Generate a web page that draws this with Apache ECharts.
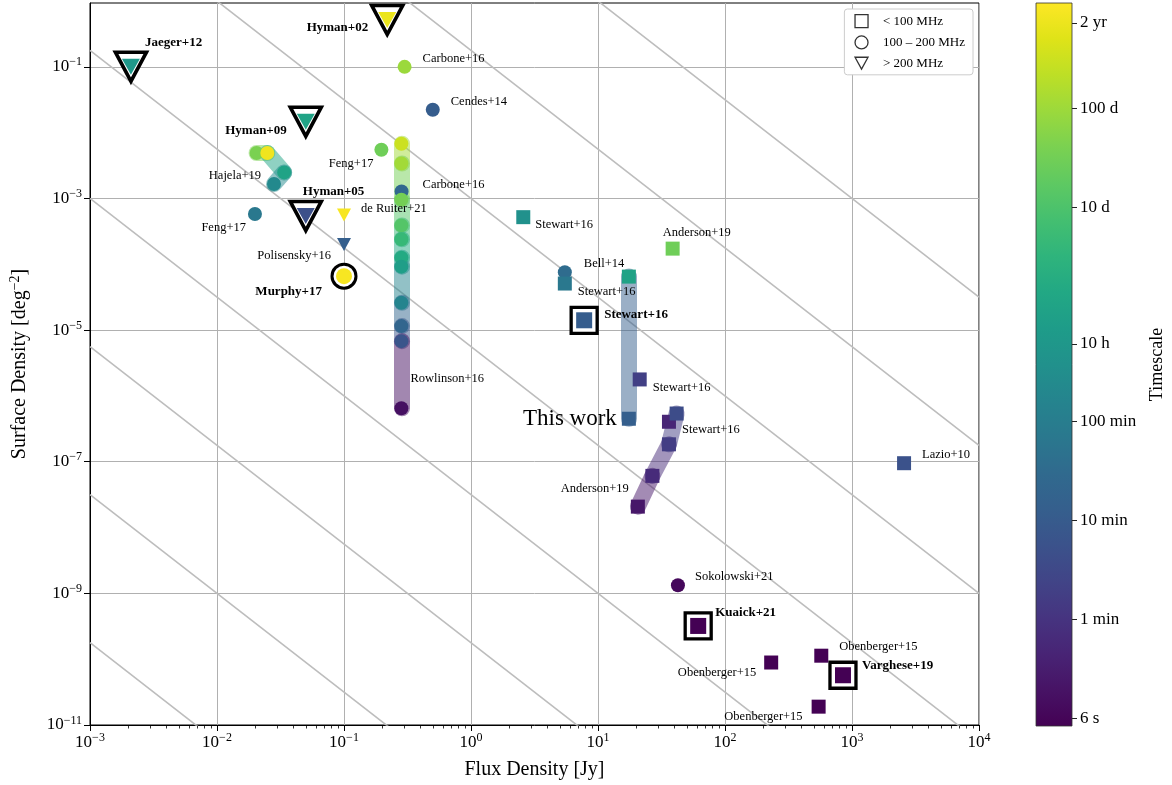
<!DOCTYPE html>
<html>
<head>
<meta charset="utf-8">
<script src="https://cdn.jsdelivr.net/npm/echarts@6/dist/echarts.min.js"></script>
<style>
html,body{margin:0;padding:0;background:#fff;}
#chart{width:1172px;height:785px;}
</style>
</head>
<body>
<div id="chart"></div>
<script>
// ------------------------------------------------------------------
// DATA  (flux density in Jy, surface density in deg^-2, timescale in s)
// ------------------------------------------------------------------

// circles: 100 – 200 MHz
const circleNames     = ['Carbone+16', 'Cendes+14', 'Feng+17', 'Carbone+16', 'Feng+17', 'Bell+14', 'Sokolowski+21'];
const circleFlux      = [0.30, 0.50, 0.197, 0.284, 0.0199, 5.48, 42.6];
const circleDensity   = [0.10, 0.0223, 5.5e-3, 1.28e-3, 5.8e-4, 7.6e-5, 1.33e-9];
const circleTimescale = [8.0e6, 660, 2.5e6, 1500, 4200, 2000, 7];

// squares: < 100 MHz
const squareNames     = ['Stewart+16', 'Stewart+16', 'Anderson+19', 'Stewart+16', 'Stewart+16', 'Lazio+10', 'Obenberger+15', 'Obenberger+15', 'Obenberger+15'];
const squareFlux      = [2.58, 5.48, 38.7, 21.3, 36.2, 2570, 231, 573, 546];
const squareDensity   = [5.2e-4, 5.1e-5, 1.73e-4, 1.78e-6, 4.05e-7, 9.5e-8, 8.9e-11, 1.13e-10, 1.9e-11];
const squareTimescale = [22000, 4200, 2.5e6, 120, 30, 330, 5, 5, 5];

// triangles: > 200 MHz
const triangleNames     = ['de Ruiter+21', 'Polisensky+16'];
const triangleFlux      = [0.10, 0.10];
const triangleDensity   = [5.6e-4, 2.0e-4];
const triangleTimescale = [8.5e7, 780];

// highlighted results (bold labels, outlined markers)
const highlightNames     = ['Hyman+02', 'Jaeger+12', 'Hyman+09', 'Hyman+05', 'Murphy+17', 'Stewart+16', 'Kuaick+21', 'Varghese+19'];
const highlightBands     = ['>200', '>200', '>200', '>200', '100-200', '<100', '<100', '<100'];
const highlightFlux      = [0.219, 0.0021, 0.050, 0.050, 0.100, 7.78, 61.5, 849];
const highlightDensity   = [0.516, 0.100, 0.0146, 5.4e-4, 6.6e-5, 1.41e-5, 3.2e-10, 5.7e-11];
const highlightTimescale = [6.0e7, 37000, 86000, 290, 8.5e7, 660, 5, 5];

// multi-timescale results joined by a band
const rowlinsonFlux      = [0.283, 0.283, 0.283, 0.283, 0.283, 0.283, 0.283, 0.283, 0.283, 0.283, 0.283];
const rowlinsonDensity   = [6.8e-3, 3.4e-3, 9.6e-4, 3.9e-4, 2.4e-4, 1.26e-4, 9.2e-5, 2.6e-5, 1.15e-5, 6.8e-6, 6.5e-7];
const rowlinsonTimescale = [2.6e7, 9.5e6, 2.9e6, 1.07e6, 3.9e5, 1.4e5, 6.1e4, 9600, 1300, 400, 10];

const hajelaFlux      = [0.0205, 0.0249, 0.0338, 0.0281];
const hajelaDensity   = [4.9e-3, 4.9e-3, 2.49e-3, 1.66e-3];
const hajelaTimescale = [3.47e6, 7.0e7, 86000, 13500];

const thisWorkFlux      = [17.5, 17.5];
const thisWorkDensity   = [6.5e-5, 4.5e-7];
const thisWorkTimescale = [80000, 780];

const andersonFlux      = [20.6, 26.8, 36.2, 41.6];
const andersonDensity   = [2.08e-8, 6.1e-8, 1.84e-7, 5.4e-7];
const andersonTimescale = [14, 38, 100, 240];

// Euclidean N ∝ S^-1.5 guide lines: log10 N at S = 1 Jy
const euclideanNorms = [1.5, -0.75, -3.0, -5.25, -7.5, -9.75, -12.0, -14.25];
const euclideanSlope = -1.5;

// axes
const xLogRange = [-3, 4];
const yLogRange = [-11, -0.03];
const yMajorTicks = [-11, -9, -7, -5, -3, -1];
const timescaleRange = [5, 1e8];
const colorbarTickSeconds = [6, 60, 600, 6000, 36000, 864000, 8640000, 63115200];
const colorbarTickLabels  = ['6 s', '1 min', '10 min', '100 min', '10 h', '10 d', '100 d', '2 yr'];
const legendLabels = ['< 100 MHz', '100 – 200 MHz', '> 200 MHz'];

// ------------------------------------------------------------------
// STYLE / LAYOUT
// ------------------------------------------------------------------
const FONT = "'Liberation Serif', 'Times New Roman', Times, serif";
const VIRIDIS = ['#440154','#471365','#482475','#463480','#414487','#3b528b','#355f8d','#306a8e','#2a788e','#25848e',
                 '#21918c','#1e9c89','#22a884','#2fb47c','#44bf70','#5ec962','#7ad151','#9bd93c','#bddf26','#dfe318','#fde725'];

// label offsets [dx, dy, align]
const LABEL_LAYOUT = {
  'circle-0': [18, -8, 'left'], 'circle-1': [18, -8, 'left'], 'circle-2': [-8, 14, 'right'],
  'circle-3': [21, -7, 'left'], 'circle-4': [-9, 14, 'right'], 'circle-5': [19, -8, 'left'],
  'circle-6': [17, -8, 'left'],
  'square-0': [12, 8, 'left'], 'square-1': [13, 8, 'left'], 'square-2': [-10, -16, 'left'],
  'square-3': [13, 8, 'left'], 'square-4': [13, 8, 'left'], 'square-5': [18, -8, 'left'],
  'square-6': [-15, 10, 'right'], 'square-7': [18, -9, 'left'], 'square-8': [-16, 10, 'right'],
  'triangle-0': [17, -6, 'left'], 'triangle-1': [-13, 11, 'right'],
  'hl-0': [-19, 8, 'right'], 'hl-1': [14, -24, 'left'], 'hl-2': [-19, 9, 'right'], 'hl-3': [-3, -24, 'left'],
  'hl-4': [-22, 15, 'right'], 'hl-5': [20, -6, 'left'], 'hl-6': [17, -13, 'left'], 'hl-7': [19, -10, 'left']
};
const BAND_LABELS = [
  {text: 'Rowlinson+16', band: 'rowlinson', index: 10, dx: 9, dy: -30, align: 'left', size: 12.5},
  {text: 'Hajela+19', band: 'hajela', index: 3, dx: -13, dy: -8, align: 'right', size: 12.5},
  {text: 'This work', band: 'thiswork', index: 1, dx: -12, dy: 0, align: 'right', size: 23},
  {text: 'Anderson+19', band: 'anderson', index: 0, dx: -9, dy: -18, align: 'right', size: 12.5}
];

// ------------------------------------------------------------------
// helpers
// ------------------------------------------------------------------
const L = Math.log10;
const LT0 = L(timescaleRange[0]), LT1 = L(timescaleRange[1]);
function hexToRgb(h){ return [parseInt(h.slice(1,3),16), parseInt(h.slice(3,5),16), parseInt(h.slice(5,7),16)]; }
function viridisRgb(t){
  let f = (L(t) - LT0) / (LT1 - LT0);
  f = Math.max(0, Math.min(1, f));
  const n = VIRIDIS.length - 1;
  const i = Math.min(n - 1, Math.floor(f * n));
  const u = f * n - i;
  const a = hexToRgb(VIRIDIS[i]), b = hexToRgb(VIRIDIS[i + 1]);
  return a.map((v, k) => Math.round(v + (b[k] - v) * u));
}
const colorOf = (t, alpha) => {
  const c = viridisRgb(t);
  return alpha == null ? `rgb(${c[0]},${c[1]},${c[2]})` : `rgba(${c[0]},${c[1]},${c[2]},${alpha})`;
};
const pt = (f, d) => [L(f), L(d)];
function fmtPow(v){
  const r = Math.round(v);
  if (Math.abs(v - r) > 1e-6) return '';
  return '{b|10}{s|' + (r < 0 ? '\u2212' : '') + Math.abs(r) + '}';
}
const powRich = {
  b: {fontFamily: FONT, fontSize: 17, color: '#000'},
  s: {fontFamily: FONT, fontSize: 12, color: '#000', padding: [0, 0, 9, 0]}
};

const SHAPE = {
  '<100':    {symbol: 'rect', size: 14, rotate: 0},
  '100-200': {symbol: 'circle', size: 14, rotate: 0},
  '>200':    {symbol: 'triangle', size: [14, 13], rotate: 180}
};
const RING = {
  '<100':    {size: 26, inner: 16, border: 3.3},
  '100-200': {size: 24, inner: 16, border: 3},
  '>200':    {size: [31, 29], inner: [18, 16], border: 3.6}
};

// ------------------------------------------------------------------
// build series
// ------------------------------------------------------------------
function markerData(flux, dens, times, band){
  return flux.map((f, i) => ({
    value: pt(f, dens[i]),
    symbol: SHAPE[band].symbol, symbolSize: SHAPE[band].size, symbolRotate: SHAPE[band].rotate,
    itemStyle: {color: colorOf(times[i]), opacity: 1}
  }));
}

const guideData = euclideanNorms.map(c => [
  [xLogRange[0], c + euclideanSlope * xLogRange[0]],
  [xLogRange[1], c + euclideanSlope * xLogRange[1]]
]);

const bands = {
  rowlinson: {flux: rowlinsonFlux, dens: rowlinsonDensity, t: rowlinsonTimescale, shape: '100-200'},
  hajela:    {flux: hajelaFlux, dens: hajelaDensity, t: hajelaTimescale, shape: '100-200'},
  thiswork:  {flux: thisWorkFlux, dens: thisWorkDensity, t: thisWorkTimescale, shape: '<100'},
  anderson:  {flux: andersonFlux, dens: andersonDensity, t: andersonTimescale, shape: '<100'}
};

const bandSegments = [];
Object.values(bands).forEach(b => {
  for (let i = 0; i < b.flux.length - 1; i++) {
    const tMin = Math.min(b.t[i], b.t[i + 1]);
    bandSegments.push({
      coords: [pt(b.flux[i], b.dens[i]), pt(b.flux[i + 1], b.dens[i + 1])],
      lineStyle: {color: colorOf(tMin, 0.5)}
    });
  }
});

let markers = [];
markers = markers.concat(markerData(circleFlux, circleDensity, circleTimescale, '100-200'));
markers = markers.concat(markerData(squareFlux, squareDensity, squareTimescale, '<100'));
markers = markers.concat(markerData(triangleFlux, triangleDensity, triangleTimescale, '>200'));
Object.values(bands).forEach(b => { markers = markers.concat(markerData(b.flux, b.dens, b.t, b.shape)); });

const ringData = highlightFlux.map((f, i) => {
  const band = highlightBands[i];
  return {
    value: pt(f, highlightDensity[i]),
    symbol: SHAPE[band].symbol, symbolSize: RING[band].size, symbolRotate: SHAPE[band].rotate,
    itemStyle: {color: '#fff', borderColor: '#000', borderWidth: RING[band].border, opacity: 1}
  };
});
const highlightData = highlightFlux.map((f, i) => {
  const band = highlightBands[i];
  return {
    value: pt(f, highlightDensity[i]),
    symbol: SHAPE[band].symbol, symbolSize: RING[band].inner, symbolRotate: SHAPE[band].rotate,
    itemStyle: {color: colorOf(highlightTimescale[i]), opacity: 1}
  };
});

// labels
const labelData = [];
function pushLabel(text, x, y, lay, bold, size){
  labelData.push({
    value: [x, y],
    label: {
      show: true, formatter: text, position: 'inside', align: lay[2], verticalAlign: 'middle',
      offset: [lay[0], lay[1]], fontFamily: FONT, fontSize: size || (bold ? 13 : 12.5),
      fontWeight: bold ? 'bold' : 'normal', color: '#000'
    }
  });
}
circleNames.forEach((n, i) => pushLabel(n, L(circleFlux[i]), L(circleDensity[i]), LABEL_LAYOUT['circle-' + i], false));
squareNames.forEach((n, i) => pushLabel(n, L(squareFlux[i]), L(squareDensity[i]), LABEL_LAYOUT['square-' + i], false));
triangleNames.forEach((n, i) => pushLabel(n, L(triangleFlux[i]), L(triangleDensity[i]), LABEL_LAYOUT['triangle-' + i], false));
highlightNames.forEach((n, i) => pushLabel(n, L(highlightFlux[i]), L(highlightDensity[i]), LABEL_LAYOUT['hl-' + i], true));
BAND_LABELS.forEach(b => {
  const bd = bands[b.band];
  pushLabel(b.text, L(bd.flux[b.index]), L(bd.dens[b.index]), [b.dx, b.dy, b.align], false, b.size);
});

// minor x ticks
const xMinor = [];
for (let n = xLogRange[0]; n < xLogRange[1]; n++) for (let k = 2; k <= 9; k++) xMinor.push(n + L(k));

const cbTickVals = colorbarTickSeconds.map(L);

const series = [];
guideData.forEach(d => series.push({
  type: 'line', xAxisIndex: 0, yAxisIndex: 0, data: d, symbol: 'none', silent: true, z: 1,
  clip: true, lineStyle: {color: '#bdbdbd', width: 1.6}
}));
series.push({
  type: 'lines', coordinateSystem: 'cartesian2d', xAxisIndex: 0, yAxisIndex: 0, z: 2, silent: true,
  lineStyle: {width: 16, cap: 'round', opacity: 1}, data: bandSegments
});
series.push({type: 'scatter', xAxisIndex: 0, yAxisIndex: 0, z: 3, silent: true, itemStyle: {opacity: 1}, data: ringData});
series.push({type: 'scatter', xAxisIndex: 0, yAxisIndex: 0, z: 4, silent: true, itemStyle: {opacity: 1}, data: markers});
series.push({type: 'scatter', xAxisIndex: 0, yAxisIndex: 0, z: 5, silent: true, itemStyle: {opacity: 1}, data: highlightData});
legendLabels.forEach(n => series.push({type: 'scatter', name: n, xAxisIndex: 0, yAxisIndex: 0, data: []}));
series.push({
  type: 'scatter', xAxisIndex: 0, yAxisIndex: 0, z: 6, silent: true, symbolSize: 1,
  itemStyle: {color: 'rgba(0,0,0,0)', opacity: 1}, data: labelData
});
// colour bar
series.push({
  type: 'custom', xAxisIndex: 2, yAxisIndex: 1, silent: true, z: 2,
  data: [[0, LT0, LT1]],
  encode: {x: 0, y: 1},
  renderItem: function (params, api) {
    const p0 = api.coord([0, api.value(2)]);
    const p1 = api.coord([1, api.value(1)]);
    const stops = VIRIDIS.slice().reverse().map((c, i, a) => ({offset: i / (a.length - 1), color: c}));
    return {
      type: 'rect',
      shape: {x: p0[0], y: p0[1], width: p1[0] - p0[0], height: p1[1] - p0[1]},
      style: {fill: new echarts.graphic.LinearGradient(0, 0, 0, 1, stops), stroke: '#333', lineWidth: 0.8}
    };
  }
});

const option = {
  animation: false,
  backgroundColor: '#fff',
  textStyle: {fontFamily: FONT},
  grid: [
    {left: 88, right: 193, top: 3, bottom: 59, show: true, borderColor: '#000', borderWidth: 1, backgroundColor: 'transparent'},
    {left: 1036, width: 36, top: 3, bottom: 59}
  ],
  legend: {
    show: true, data: [
      {name: legendLabels[0], icon: 'rect', itemStyle: {color: '#fff', borderColor: '#000', borderWidth: 1.3}},
      {name: legendLabels[1], icon: 'circle', itemStyle: {color: '#fff', borderColor: '#000', borderWidth: 1.3}},
      {name: legendLabels[2], icon: 'path://M0,0 L12,0 L6,11 Z', itemStyle: {color: '#fff', borderColor: '#000', borderWidth: 1.3}}
    ],
    orient: 'vertical', right: 199, top: 9, itemWidth: 13, itemHeight: 13, itemGap: 7,
    padding: [5, 8, 5, 10], backgroundColor: '#fff', borderColor: '#cccccc', borderWidth: 1, borderRadius: 3,
    selectedMode: false,
    textStyle: {fontFamily: FONT, fontSize: 13, color: '#000', padding: [0, 0, 0, 10]}
  },
  xAxis: [
    {
      type: 'value', gridIndex: 0, min: xLogRange[0], max: xLogRange[1], interval: 1,
      axisLine: {show: true, onZero: false, lineStyle: {color: '#000', width: 1}},
      axisTick: {show: true, length: 6, lineStyle: {color: '#000', width: 1}},
      axisLabel: {formatter: fmtPow, rich: powRich, margin: 7},
      splitLine: {show: true, lineStyle: {color: '#b0b0b0', width: 1}},
      name: 'Flux Density [Jy]', nameLocation: 'middle', nameGap: 35,
      nameTextStyle: {fontFamily: FONT, fontSize: 20, color: '#000'}
    },
    {
      type: 'value', gridIndex: 0, min: xLogRange[0], max: xLogRange[1], position: 'bottom', offset: 0,
      axisLine: {show: false, onZero: false}, axisLabel: {show: false}, splitLine: {show: false},
      axisTick: {show: true, customValues: xMinor, length: 3.5, lineStyle: {color: '#000', width: 0.8}}
    },
    {type: 'value', gridIndex: 1, min: 0, max: 1, show: false}
  ],
  yAxis: [
    {
      type: 'value', gridIndex: 0, min: yLogRange[0], max: yLogRange[1], interval: 2,
      axisLine: {show: true, onZero: false, lineStyle: {color: '#000', width: 1}},
      axisTick: {show: true, customValues: yMajorTicks, length: 6, lineStyle: {color: '#000', width: 1}},
      axisLabel: {formatter: fmtPow, rich: powRich, margin: 8},
      splitLine: {show: true, lineStyle: {color: '#b0b0b0', width: 1}},
      name: '{a|Surface Density [deg}{s|\u22122}{a|]}', nameLocation: 'middle', nameGap: 58, nameRotate: 90,
      nameTextStyle: {rich: {
        a: {fontFamily: FONT, fontSize: 20, color: '#000'},
        s: {fontFamily: FONT, fontSize: 14, color: '#000', padding: [0, 0, 10, 0]}
      }}
    },
    {
      type: 'value', gridIndex: 1, min: LT0, max: LT1, position: 'right',
      axisLine: {show: false, onZero: false}, splitLine: {show: false},
      axisTick: {show: true, customValues: cbTickVals, length: 5, lineStyle: {color: '#222', width: 1}},
      axisLabel: {
        customValues: cbTickVals, margin: 8, fontFamily: FONT, fontSize: 17, color: '#000',
        formatter: v => {
          const i = cbTickVals.findIndex(c => Math.abs(c - v) < 1e-6);
          return i >= 0 ? colorbarTickLabels[i] : '';
        }
      },
      name: 'Timescale', nameLocation: 'middle', nameGap: 76, nameRotate: 90,
      nameTextStyle: {fontFamily: FONT, fontSize: 18, color: '#000'}
    }
  ],
  series: series
};

const chart = echarts.init(document.getElementById('chart'), null, {renderer: 'canvas'});
chart.setOption(option);
</script>
</body>
</html>
